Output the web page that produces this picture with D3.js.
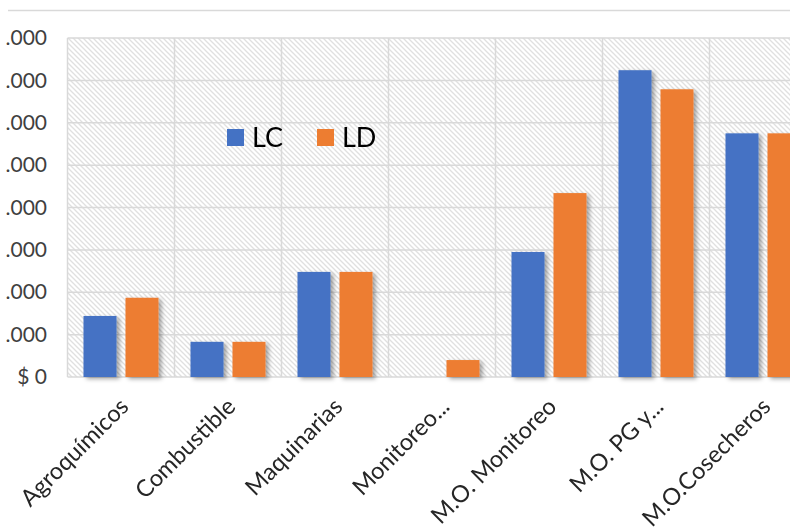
<!DOCTYPE html>
<html>
<head>
<meta charset="utf-8">
<script src="https://cdn.jsdelivr.net/npm/d3@7"></script>
<style>
  html, body { margin: 0; padding: 0; background: #ffffff; }
  svg { display: block; }
</style>
</head>
<body>
<div id="chart"></div>
<script>
// Cost categories and series (values in millions of pesos)
const categories = ["Agroquímicos", "Combustible", "Maquinarias", "Monitoreo...", "M.O. Monitoreo", "M.O. PG y...", "M.O.Cosecheros"];
const series = ["LC", "LD"];
const valuesLC = [1.44, 0.83, 2.48, 0.0, 2.95, 7.24, 5.75];
const valuesLD = [1.87, 0.83, 2.48, 0.40, 4.34, 6.79, 5.75];
const colors = ["#4472c4", "#ed7d31"];
const yTicks = [0, 1, 2, 3, 4, 5, 6, 7, 8];
const yTickLabels = ["$ 0", ".000", ".000", ".000", ".000", ".000", ".000", ".000", ".000"];

const W = 790, H = 531;
const plot = { left: 67.5, top: 38, bottom: 377, step: 107 };
const FONT = "Lato, 'Open Sans', sans-serif";

const svg = d3.select("#chart").append("svg")
  .attr("width", W).attr("height", H);

const defs = svg.append("defs");

// light diagonal hatching for the plot background
const pat = defs.append("pattern")
  .attr("id", "hatch")
  .attr("patternUnits", "userSpaceOnUse")
  .attr("width", 5).attr("height", 5);
pat.append("rect").attr("width", 5).attr("height", 5).attr("fill", "#ffffff");
pat.append("path")
  .attr("d", "M0,0 L5,5 M-1,4 L1,6 M4,-1 L6,1")
  .attr("stroke", "#e0e0e0").attr("stroke-width", 1.3);

// soft shadow under the bars
const shadow = defs.append("filter").attr("id", "shadow")
  .attr("x", "-20%").attr("y", "-20%").attr("width", "150%").attr("height", "150%");
shadow.append("feDropShadow")
  .attr("dx", 3).attr("dy", 2).attr("stdDeviation", 2)
  .attr("flood-color", "#000").attr("flood-opacity", 0.35);

// frame line at the top
svg.append("line")
  .attr("x1", 8).attr("x2", W).attr("y1", 10.5).attr("y2", 10.5)
  .attr("stroke", "#d9d9d9").attr("stroke-width", 1.5);

const x0 = d3.scaleBand()
  .domain(categories)
  .range([plot.left, plot.left + plot.step * categories.length])
  .paddingInner(0).paddingOuter(0);

const x1 = d3.scaleBand()
  .domain(series)
  .range([0, x0.bandwidth()])
  .paddingInner(0.214).paddingOuter(0.381);

const y = d3.scaleLinear().domain([0, 8]).range([plot.bottom, plot.top]);

const plotRight = x0.range()[1];

// background
svg.append("rect")
  .attr("x", plot.left).attr("y", plot.top)
  .attr("width", plotRight - plot.left).attr("height", plot.bottom - plot.top)
  .attr("fill", "url(#hatch)");

// gridlines
const grid = svg.append("g").attr("class", "grid");
grid.selectAll("line.h").data(yTicks).join("line")
  .attr("class", "h")
  .attr("x1", plot.left).attr("x2", plotRight)
  .attr("y1", d => y(d)).attr("y2", d => y(d))
  .attr("stroke", "#d9d9d9").attr("stroke-width", 1.5);
grid.selectAll("line.v").data(categories.concat(["_end"])).join("line")
  .attr("class", "v")
  .attr("x1", (d, i) => plot.left + i * x0.step())
  .attr("x2", (d, i) => plot.left + i * x0.step())
  .attr("y1", plot.top).attr("y2", plot.bottom)
  .attr("stroke", "#d9d9d9").attr("stroke-width", 1.5);

// bars
const rows = categories.map((c, i) => ({ cat: c, vals: [valuesLC[i], valuesLD[i]] }));
const groups = svg.append("g").attr("filter", "url(#shadow)")
  .selectAll("g").data(rows).join("g")
  .attr("transform", d => `translate(${x0(d.cat)},0)`);
groups.selectAll("rect")
  .data(d => d.vals.map((v, j) => ({ s: series[j], v, j })).filter(e => e.v > 0))
  .join("rect")
  .attr("x", d => x1(d.s))
  .attr("width", x1.bandwidth())
  .attr("y", d => y(d.v))
  .attr("height", d => y(0) - y(d.v))
  .attr("fill", d => colors[d.j]);

// value axis labels
const yAxisG = svg.append("g")
  .attr("transform", "translate(47,0)")
  .call(d3.axisLeft(y).tickValues(yTicks).tickFormat((d, i) => yTickLabels[i]).tickSize(0).tickPadding(0));
yAxisG.select(".domain").remove();
yAxisG.selectAll("text")
  .attr("font-family", FONT)
  .attr("font-size", 21)
  .attr("fill", "#404040");

// category axis labels
const xAxisG = svg.append("g")
  .attr("transform", `translate(0,${plot.bottom})`)
  .call(d3.axisBottom(x0).tickSize(0).tickPadding(0));
xAxisG.select(".domain").remove();
xAxisG.selectAll("text")
  .attr("font-family", FONT)
  .attr("font-size", 23.5)
  .attr("fill", "#262626")
  .attr("text-anchor", "end")
  .attr("dy", 0)
  .attr("transform", "translate(9,31) rotate(-45)");

// legend
const legend = svg.append("g");
const legendItems = [
  { name: series[0], color: colors[0], x: 227 },
  { name: series[1], color: colors[1], x: 317 }
];
legendItems.forEach(it => {
  legend.append("rect")
    .attr("x", it.x).attr("y", 129)
    .attr("width", 17).attr("height", 17)
    .attr("fill", it.color);
  legend.append("text")
    .attr("x", it.x + 25).attr("y", 147)
    .attr("font-family", FONT)
    .attr("font-size", 27)
    .attr("fill", "#000")
    .text(it.name);
});
</script>
</body>
</html>
